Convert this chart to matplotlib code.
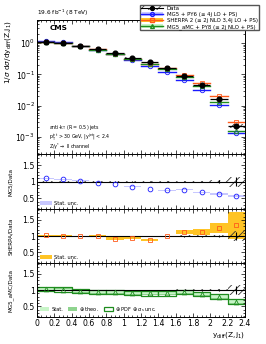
import numpy as np
import matplotlib
matplotlib.use("Agg")
import matplotlib.pyplot as plt
from matplotlib.patches import Patch
from matplotlib.lines import Line2D

# bins in y_diff(Z, j1)
edges = [0.0, 0.2, 0.4, 0.6, 0.8, 1.0, 1.2, 1.4, 1.6, 1.8, 2.0, 2.2, 2.4]

# measured normalised cross section
data = [1.08, 1.0, 0.8, 0.64, 0.47, 0.345, 0.24, 0.16, 0.088, 0.047, 0.016, 0.0023]
data_stat = [0.005, 0.005, 0.005, 0.005, 0.006, 0.007, 0.008, 0.01, 0.015, 0.02, 0.04, 0.13]
data_syst = [0.01, 0.01, 0.01, 0.01, 0.01, 0.012, 0.014, 0.016, 0.03, 0.03, 0.04, 0.15]

# theory / data ratios
r_mg5 = [1.10, 1.07, 1.03, 0.97, 0.93, 0.85, 0.78, 0.74, 0.75, 0.68, 0.63, 0.58]
r_mg5_unc = [0.01, 0.01, 0.01, 0.01, 0.01, 0.01, 0.01, 0.012, 0.015, 0.02, 0.02, 0.03]
r_sherpa = [1.03, 1.02, 0.99, 1.02, 0.92, 0.93, 0.88, 0.99, 1.12, 1.13, 1.25, 1.33]
r_sherpa_unc = [0.02, 0.02, 0.02, 0.02, 0.04, 0.03, 0.04, 0.03, 0.06, 0.1, 0.15, 0.42]
r_amc = [1.04, 1.02, 0.98, 0.95, 0.94, 0.91, 0.90, 0.90, 0.95, 0.88, 0.80, 0.65]
r_amc_stat = [0.03, 0.03, 0.03, 0.03, 0.03, 0.03, 0.03, 0.03, 0.03, 0.03, 0.04, 0.05]
r_amc_theo = [0.06, 0.06, 0.06, 0.06, 0.06, 0.06, 0.06, 0.06, 0.06, 0.06, 0.07, 0.07]
r_amc_pdf = [0.07, 0.07, 0.07, 0.07, 0.07, 0.07, 0.07, 0.07, 0.07, 0.07, 0.08, 0.08]

edges = np.array(edges)
centers = 0.5 * (edges[:-1] + edges[1:])
halfw = 0.5 * np.diff(edges)
data = np.array(data)

c_mg5 = '#1a1aff'
c_mg5_band = '#c8c8ff'
c_sh = '#ff5a1a'
c_sh_band = '#ffc425'
c_amc = '#1e8c1e'
c_amc_stat = '#c8f5c8'
c_amc_theo = '#8fd48f'

fs = 5.6      # tick labels
ft = 3.4      # info text in the top panel
fl = 3.6      # legends in the ratio panels
plt.rcParams['font.family'] = ['DejaVu Sans']
plt.rcParams['hatch.linewidth'] = 0.6

fig = plt.figure(figsize=(2.66, 3.44), dpi=100)
L, W = 0.139, 0.782
ax0 = fig.add_axes([L, 0.552, W, 0.390])
ax1 = fig.add_axes([L, 0.392, W, 0.160])
ax2 = fig.add_axes([L, 0.235, W, 0.157])
ax3 = fig.add_axes([L, 0.078, W, 0.157])

def style(ax):
    ax.set_xlim(0, 2.4)
    ax.tick_params(direction='in', which='both', top=True, right=True,
                   labelsize=fs, width=0.5, pad=1.5)
    ax.tick_params(which='major', length=3)
    ax.tick_params(which='minor', length=1.5)
    for s in ax.spines.values():
        s.set_linewidth(0.7)
    ax.set_xticks(np.arange(0, 2.41, 0.2))
    ax.set_xticks(np.arange(0, 2.41, 0.05), minor=True)

# ---- top panel ----
style(ax0)
ax0.set_yscale('log')
ax0.set_ylim(2.8e-4, 5.5)
ax0.set_xticklabels([])
for i in range(len(centers)):
    x0, x1 = edges[i], edges[i + 1]
    syst = data[i] * data_syst[i]
    ax0.fill_between([x0, x1], data[i] - syst, data[i] + syst, facecolor='none',
                     edgecolor='#333333', hatch='////', linewidth=0)
    for vals, col in [(r_mg5, c_mg5), (r_sherpa, c_sh), (r_amc, c_amc)]:
        ax0.plot([x0, x1], [data[i] * vals[i]] * 2, color=col, lw=1.0)
ax0.plot(centers, data * r_mg5, 'o', mfc='none', mec=c_mg5, ms=3.2, mew=0.6)
ax0.plot(centers, data * r_sherpa, 's', mfc='none', mec=c_sh, ms=3.2, mew=0.6)
ax0.plot(centers, data * r_amc, '^', mfc='none', mec=c_amc, ms=3.2, mew=0.6)
ax0.errorbar(centers, data, xerr=halfw, yerr=data * np.array(data_stat),
             fmt='o', color='black', ms=3.4, lw=0.9, capsize=0)
ax0.set_ylabel(r'1/$\sigma$ d$\sigma$/dy$_{\rm diff}$(Z,j$_1$)', fontsize=5.3,
               loc='top', labelpad=1)
ax0.text(0.06, 0.965, 'CMS', transform=ax0.transAxes, fontsize=5.3,
         fontweight='bold', va='top')
ax0.text(0.0, 1.012, r'19.6 fb$^{-1}$ (8 TeV)', transform=ax0.transAxes,
         fontsize=4.2, va='bottom')
ax0.text(0.06, 0.199, r'anti-k$_{\rm T}$ (R = 0.5) jets', transform=ax0.transAxes,
         fontsize=ft, va='center')
ax0.text(0.06, 0.129, r'p$_{\rm T}^{\rm jet}$ > 30 GeV, |y$^{\rm jet}$| < 2.4',
         transform=ax0.transAxes, fontsize=ft, va='center')
ax0.text(0.06, 0.054, r'Z/$\gamma^{*}\rightarrow$ ll channel', transform=ax0.transAxes,
         fontsize=ft, va='center')

handles = [
    (Patch(facecolor='none', edgecolor='#333333', hatch='////', lw=0),
     Line2D([], [], color='black', marker='o', ms=2.8, lw=0.8)),
    (Patch(facecolor=c_mg5_band, lw=0), Line2D([], [], color=c_mg5, marker='o', mfc='none', ms=2.8, lw=1)),
    (Patch(facecolor=c_sh_band, lw=0), Line2D([], [], color=c_sh, marker='s', mfc='none', ms=2.8, lw=1)),
    (Patch(facecolor=c_amc_stat, lw=0), Line2D([], [], color=c_amc, marker='^', mfc='none', ms=2.8, lw=1)),
]
labels = ['Data', 'MG5 + PY6 (≤ 4j LO + PS)',
          'SHERPA 2 (≤ 2j NLO 3,4j LO + PS)',
          'MG5_aMC + PY8 (≤ 2j NLO + PS)']
fig.legend(handles, labels, loc='upper right', bbox_to_anchor=(0.972, 0.986),
           fontsize=3.9, frameon=True, fancybox=False, edgecolor='#555555',
           framealpha=1, handlelength=4.1, handleheight=0.8, handletextpad=0.6,
           borderpad=0.15, labelspacing=0.2, borderaxespad=0)

# ---- ratio panels ----
def data_band(ax):
    for i in range(len(centers)):
        ax.fill_between([edges[i], edges[i + 1]], 1 - data_syst[i], 1 + data_syst[i],
                        facecolor='none', edgecolor='#333333', hatch='////', linewidth=0)
    ax.axhline(1, color='black', lw=0.8)
    ax.errorbar(centers, np.ones(len(centers)), yerr=data_stat, fmt='none',
                ecolor='black', lw=0.8)

for ax, lab in [(ax1, 'MG5/Data'), (ax2, 'SHERPA/Data'), (ax3, 'MG5_aMC/Data')]:
    style(ax)
    ax.set_ylim(0.17, 1.83)
    ax.set_yticks([0.5, 1, 1.5])
    ax.set_yticklabels(['0.5', '1', '1.5'])
    ax.set_yticks(np.arange(0.2, 1.81, 0.1), minor=True)
    ax.set_ylabel(lab, fontsize=4.1, labelpad=3)
for ax in (ax1, ax2):
    ax.set_xticklabels([])

# MG5
for i in range(len(centers)):
    ax1.fill_between([edges[i], edges[i + 1]], r_mg5[i] - r_mg5_unc[i], r_mg5[i] + r_mg5_unc[i],
                     color=c_mg5_band, lw=0)
data_band(ax1)
ax1.plot(centers, r_mg5, 'o', mfc='none', mec=c_mg5, ms=3.4, mew=0.6)
ax1.legend([Patch(facecolor=c_mg5_band, lw=0)], ['Stat. unc.'], loc='lower left',
           fontsize=fl, frameon=False, handlelength=2.4, handletextpad=0.4,
           borderaxespad=0.3)

# SHERPA
for i in range(len(centers)):
    ax2.fill_between([edges[i], edges[i + 1]], r_sherpa[i] - r_sherpa_unc[i],
                     r_sherpa[i] + r_sherpa_unc[i], color=c_sh_band, lw=0)
data_band(ax2)
ax2.plot(centers, r_sherpa, 's', mfc='none', mec=c_sh, ms=3.4, mew=0.6)
ax2.legend([Patch(facecolor=c_sh_band, lw=0)], ['Stat. unc.'], loc='lower left',
           fontsize=fl, frameon=False, handlelength=2.4, handletextpad=0.4,
           borderaxespad=0.3)

# MG5_aMC
for i in range(len(centers)):
    x = [edges[i], edges[i + 1]]
    ax3.fill_between(x, r_amc[i] - r_amc_theo[i], r_amc[i] + r_amc_theo[i],
                     color=c_amc_theo, lw=0)
    ax3.fill_between(x, r_amc[i] - r_amc_stat[i], r_amc[i] + r_amc_stat[i],
                     color=c_amc_stat, lw=0)
    ax3.fill_between(x, r_amc[i] - r_amc_pdf[i], r_amc[i] + r_amc_pdf[i],
                     facecolor='none', edgecolor=c_amc, lw=0.9)
data_band(ax3)
ax3.plot(centers, r_amc, '^', mfc='none', mec=c_amc, ms=3.4, mew=0.6)
ax3.legend([Patch(facecolor=c_amc_stat, lw=0), Patch(facecolor=c_amc_theo, lw=0),
            Patch(facecolor='none', edgecolor=c_amc, lw=0.9)],
           ['Stat.', r'$\oplus$ theo.', r'$\oplus$ PDF $\oplus$ $\alpha_{\rm s}$ unc.'],
           loc='lower left', ncol=3, fontsize=fl, frameon=False, handlelength=1.8,
           handletextpad=0.4, columnspacing=1.0, borderaxespad=0.3)
ax3.set_xticklabels(['0', '0.2', '0.4', '0.6', '0.8', '1', '1.2', '1.4', '1.6',
                     '1.8', '2', '2.2', '2.4'])
ax3.set_xlabel(r'y$_{\rm diff}$(Z,j$_1$)', fontsize=5.3, loc='right', labelpad=1)

# align ylabels
for ax in (ax1, ax2, ax3):
    ax.yaxis.set_label_coords(-0.115, 0.5)
ax0.yaxis.set_label_coords(-0.115, 1.0)

fig.savefig('out.png', dpi=100)
